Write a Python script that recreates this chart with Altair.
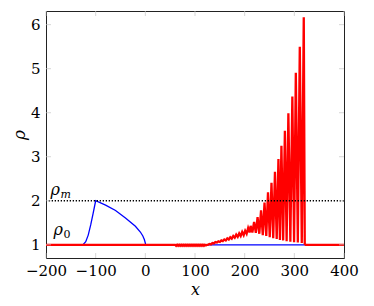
import altair as alt
import pandas as pd

# ---- data ----
blue_x = [-200, -130, -125, -120, -115, -110, -105, -100, -80, -60, -40, -20, -10, -5, -2, 0, 0.5, 400]
blue_y = [1.0, 1.0, 1.01, 1.07, 1.22, 1.45, 1.72, 2.0, 1.90, 1.78, 1.61, 1.42, 1.29, 1.20, 1.12, 1.04, 1.0, 1.0]

red_x = [-200, 60,
         62, 64, 66, 68, 70, 72, 74, 76, 78, 80, 82, 84, 86, 88, 90, 92, 94, 96, 98, 100,
         102, 104, 106, 108, 110, 112, 114, 116, 118, 120, 122, 124,
         126, 129, 132, 135, 138, 141, 144, 147, 150, 153, 156, 159, 162, 165, 168, 171,
         174, 177, 180, 183, 186, 189, 192, 195, 198, 201, 204, 207, 210,
         212, 215.5, 219, 222.5, 226, 229.5, 233, 236.5, 240, 243.5, 247, 250.5, 254, 257.5,
         261, 264.5, 268, 271, 274, 277.5, 281, 284.5, 288, 292, 296, 299.5, 303, 307,
         311, 315, 319, 321, 323, 400]
red_y = [1.0, 1.0,
         0.975, 1.0, 0.975, 1.0, 0.975, 1.0, 0.975, 1.0, 0.975, 1.0, 0.975, 1.0, 0.975, 1.0, 0.975, 1.0, 0.975, 1.0, 0.975, 1.0,
         0.975, 1.0, 0.975, 1.0, 0.975, 1.0, 0.975, 1.0, 0.975, 1.0, 0.985, 1.0,
         1.00, 1.02, 1.01, 1.04, 1.03, 1.06, 1.05, 1.08, 1.065, 1.10, 1.085, 1.12, 1.10, 1.145, 1.12, 1.17,
         1.14, 1.20, 1.16, 1.23, 1.18, 1.26, 1.20, 1.29, 1.22, 1.32, 1.25, 1.38, 1.28,
         1.43, 1.28, 1.52, 1.27, 1.63, 1.25, 1.78, 1.22, 1.96, 1.20, 2.19, 1.17, 2.41, 1.15,
         2.66, 1.13, 2.95, 1.11, 3.25, 1.10, 3.59, 1.08, 3.99, 1.07, 4.37, 1.06, 4.91, 1.05,
         5.50, 1.04, 6.17, 1.02, 1.0, 1.0]

rho_m = 2.0
x_ticks = [-200, -100, 0, 100, 200, 300, 400]
y_ticks = [1, 2, 3, 4, 5, 6]

W, H = 298, 247
FONT = "DejaVu Serif"
TICK_GRAY = "#c4c4c4"

xs = alt.Scale(domain=[-200, 400], nice=False, zero=False)
ys = alt.Scale(domain=[0.7, 6.31], nice=False, zero=False)

blue_df = pd.DataFrame({"x": blue_x, "y": blue_y, "i": range(len(blue_x))})
red_df = pd.DataFrame({"x": red_x, "y": red_y, "i": range(len(red_x))})
xt_df = pd.DataFrame({"t": x_ticks})
yt_df = pd.DataFrame({"t": y_ticks})

xaxis = alt.Axis(values=x_ticks, domain=False, ticks=False, tickSize=0, grid=False,
                 labelFont=FONT, labelFontSize=15, labelColor="black", labelPadding=5,
                 labelFlush=False, labelOverlap=False,
                 title="x", titleFont=FONT, titleFontSize=16, titleFontStyle="italic",
                 titleFontWeight="normal", titleColor="black", titlePadding=3)
yaxis = alt.Axis(values=y_ticks, domain=False, ticks=False, tickSize=0, grid=False,
                 labelFont=FONT, labelFontSize=15, labelColor="black", labelPadding=6,
                 labelFlush=False, labelOverlap=False,
                 title="ρ", titleFont=FONT, titleFontSize=17, titleFontStyle="italic",
                 titleFontWeight="normal", titleColor="black", titlePadding=2)

blue = alt.Chart(blue_df).mark_line(color="#0000ff", strokeWidth=1.3).encode(
    x=alt.X("x:Q", scale=xs, axis=xaxis),
    y=alt.Y("y:Q", scale=ys, axis=yaxis),
    order="i:Q",
)
red = alt.Chart(red_df).mark_line(color="#ff0000", strokeWidth=2.3).encode(
    x=alt.X("x:Q", scale=xs),
    y=alt.Y("y:Q", scale=ys),
    order="i:Q",
)
dotted = alt.Chart(pd.DataFrame({"y": [rho_m]})).mark_rule(
    color="black", strokeWidth=1.3, strokeDash=[1.3, 1.7]).encode(
    y=alt.Y("y:Q", scale=ys))

# inward ticks on all four sides
tb = alt.Chart(xt_df).mark_tick(color=TICK_GRAY, size=5, thickness=1).encode(
    x=alt.X("t:Q", scale=xs), y=alt.value(H - 2.5))
tt = alt.Chart(xt_df).mark_tick(color=TICK_GRAY, size=5, thickness=1).encode(
    x=alt.X("t:Q", scale=xs), y=alt.value(2.5))
tl = alt.Chart(yt_df).mark_tick(color=TICK_GRAY, size=5, thickness=1).encode(
    y=alt.Y("t:Q", scale=ys), x=alt.value(2.5))
tr = alt.Chart(yt_df).mark_tick(color=TICK_GRAY, size=5, thickness=1).encode(
    y=alt.Y("t:Q", scale=ys), x=alt.value(W - 2.5))

lab_df = pd.DataFrame({
    "x": [-191, -185],
    "y": [2.12, 1.22],
    "main": ["ρ", "ρ"],
    "sub": ["m", "0"],
})
rho_txt = alt.Chart(lab_df).mark_text(font=FONT, fontSize=16, fontStyle="italic",
                                      align="left", baseline="alphabetic", color="black").encode(
    x=alt.X("x:Q", scale=xs), y=alt.Y("y:Q", scale=ys), text="main:N")
sub_m = alt.Chart(lab_df.iloc[[0]]).mark_text(font=FONT, fontSize=11, fontStyle="italic",
                                             align="left", baseline="alphabetic", color="black",
                                             dx=10, dy=3).encode(
    x=alt.X("x:Q", scale=xs), y=alt.Y("y:Q", scale=ys), text="sub:N")
sub_0 = alt.Chart(lab_df.iloc[[1]]).mark_text(font=FONT, fontSize=11,
                                             align="left", baseline="alphabetic", color="black",
                                             dx=10, dy=3).encode(
    x=alt.X("x:Q", scale=xs), y=alt.Y("y:Q", scale=ys), text="sub:N")

chart = alt.layer(blue, red, dotted, tb, tt, tl, tr, rho_txt, sub_m, sub_0).properties(
    width=W, height=H,
    autosize=alt.AutoSizeParams(type="none"),
    padding={"left": 38, "top": 3, "right": 20, "bottom": 44},
).configure_view(stroke="#222222", strokeWidth=1)

chart.save("out.html", embed_options={"renderer": "svg", "actions": False})
